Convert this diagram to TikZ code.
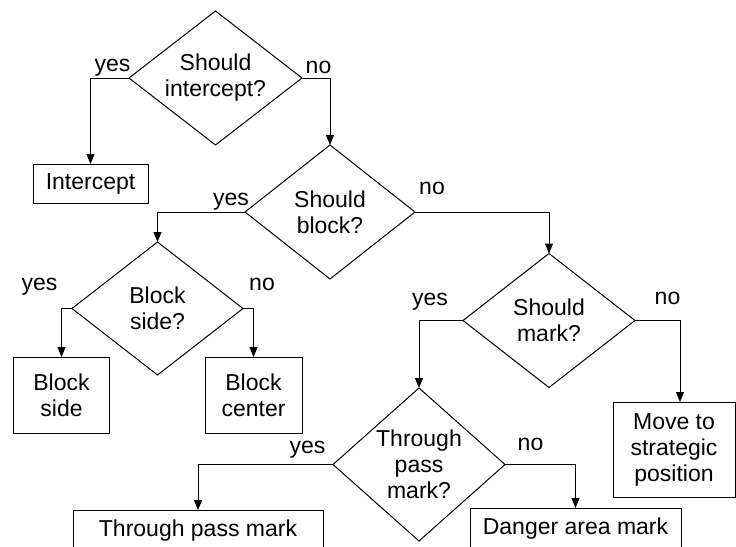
\documentclass[tikz,border=0pt]{standalone}
\usepackage{fontspec}
\setmainfont{Liberation Sans}
\usetikzlibrary{shapes.geometric,arrows.meta}

\tikzset{
  decision/.style={diamond, draw, line width=1pt, inner sep=0pt, outer sep=0pt,
    align=center, shape aspect=1.27},
  action/.style={rectangle, draw, line width=1pt, inner sep=0pt, outer sep=0pt, align=center},
  answer/.style={anchor=base, inner sep=0pt},
  flow/.style={draw, line width=1pt, -{Triangle[length=10pt,width=8pt]}}
}

\begin{document}
\begin{tikzpicture}[x=1pt,y=-1pt,font=\fontsize{23}{26}\selectfont]
\useasboundingbox (0,0) rectangle (736,546);
\clip (0,0) rectangle (736,546);
% decisions
\node [decision, minimum width=173pt, minimum height=134pt] (intq) at (215.5,78) {Should\\intercept?};
\node [decision, minimum width=170pt, minimum height=134pt] (blockq) at (330,212) {Should\\block?};
\node [decision, minimum width=171pt, minimum height=133pt] (sideq) at (157.5,308.5) {Block\\side?};
\node [decision, minimum width=172pt, minimum height=134pt] (markq) at (549,320.5) {Should\\mark?};
\node [decision, minimum width=172pt, minimum height=153pt, shape aspect=1.12] (passq) at (419,464.5) {Through\\pass\\mark?};
% actions
\node [action, minimum width=115pt, minimum height=39pt] (intercept) at (90.5,183.5) {Intercept};
\node [action, minimum width=96pt, minimum height=76pt] (blockside) at (61.5,395) {Block\\side};
\node [action, minimum width=97pt, minimum height=76pt] (blockcenter) at (253.5,395) {Block\\center};
\node [action, minimum width=122pt, minimum height=95pt] (move) at (674,449.5) {Move to\\strategic\\position};
\node [action, minimum width=250pt, minimum height=42pt] (passmark) at (198,531) {Through pass mark};
\node [action, minimum width=211pt, minimum height=42pt] (danger) at (575.5,529) {Danger area mark};
% connectors
\draw [flow] (intq.west) -| (intercept.north);
\draw [flow] (intq.east) -| (blockq.north);
\draw [flow] (blockq.west) -| (sideq.north);
\draw [flow] (blockq.east) -| (markq.north);
\draw [flow] (sideq.west) -| (blockside.north);
\draw [flow] (sideq.east) -| (blockcenter.north);
\draw [flow] (markq.west) -| (passq.north);
\draw [flow] (markq.east) -| ([xshift=6pt]move.north);
\draw [flow] (passq.west) -| (passmark.north);
\draw [flow] (passq.east) -| (danger.north);
% answers
\node [answer] (intyes) at (112.5,71.7) {yes};
\node [answer] (intno) at (318.5,73) {no};
\node [answer] (blockyes) at (231,205) {yes};
\node [answer] (blockno) at (432,194) {no};
\node [answer] (sideyes) at (39.5,290) {yes};
\node [answer] (sideno) at (262,290) {no};
\node [answer] (markyes) at (430,305.5) {yes};
\node [answer] (markno) at (667.5,304) {no};
\node [answer] (passyes) at (307.5,453) {yes};
\node [answer] (passno) at (530.5,450) {no};
\end{tikzpicture}
\end{document}
